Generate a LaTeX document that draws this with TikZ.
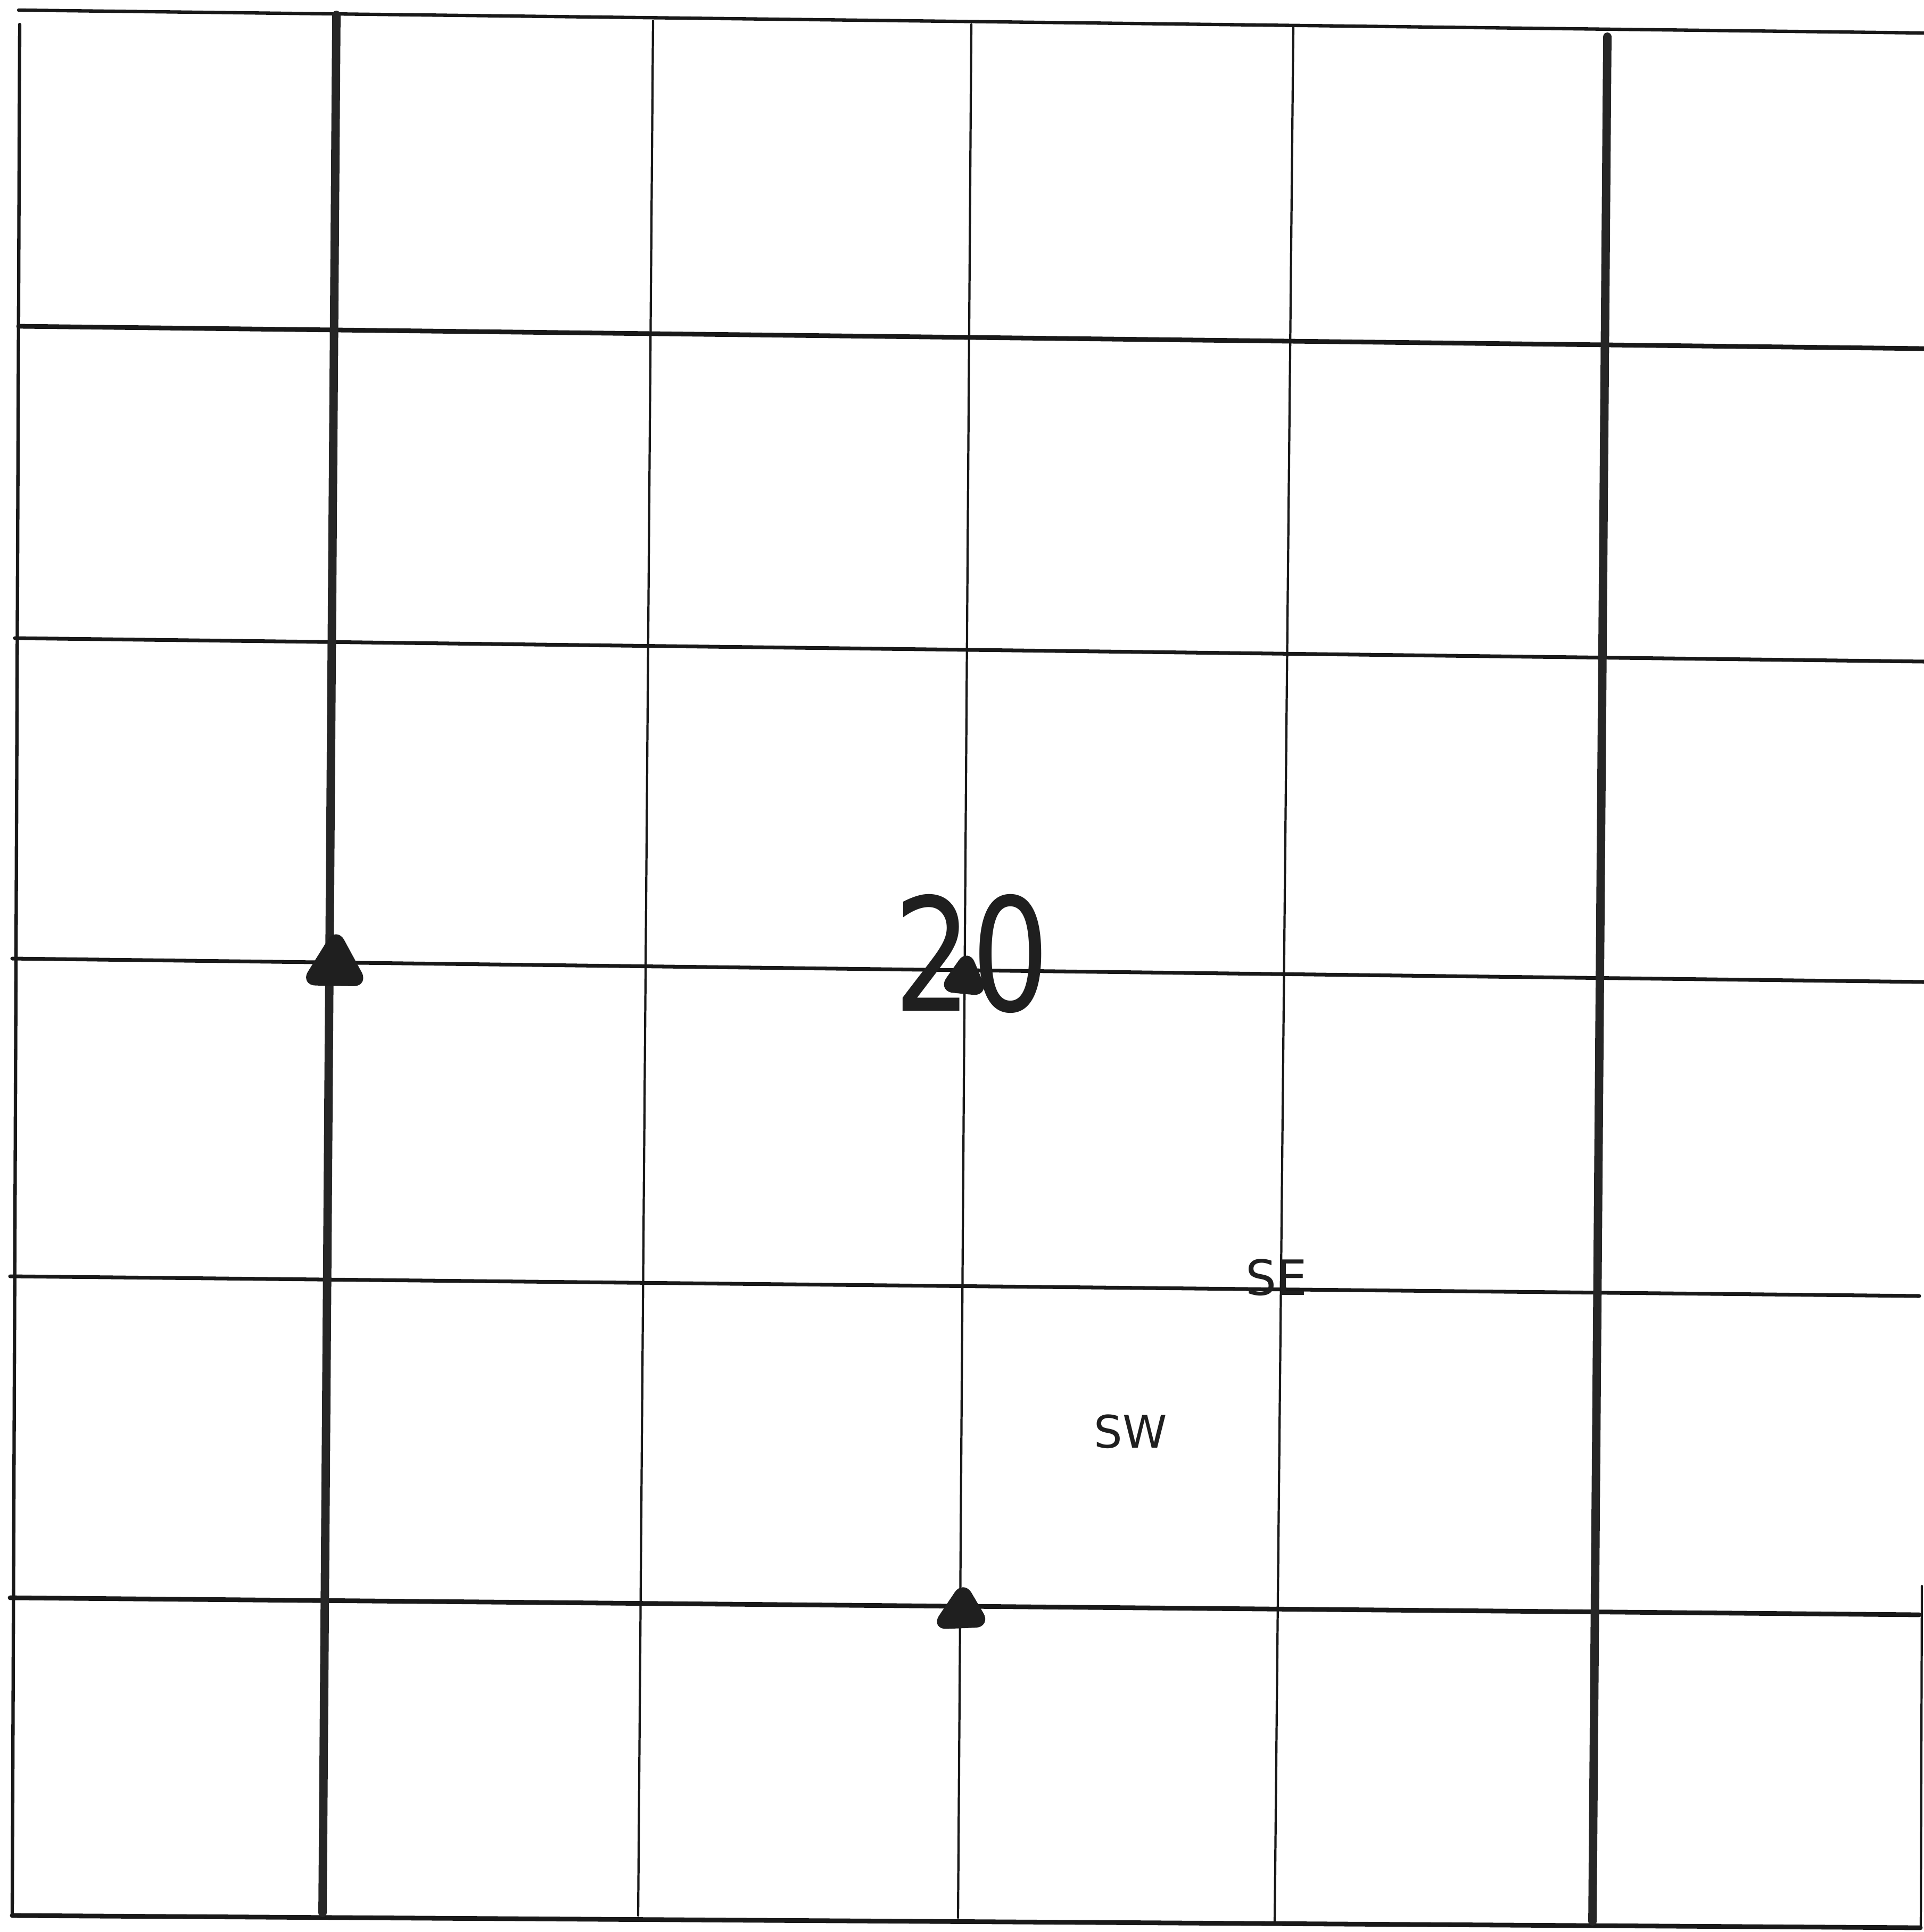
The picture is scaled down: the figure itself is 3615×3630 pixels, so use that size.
\documentclass[tikz,border=0pt]{standalone}
\usepackage{fontspec}
\setmainfont{DejaVu Sans}
\begin{document}
\begin{tikzpicture}[x=0.01cm,y=-0.01cm, line cap=round, line join=round,
  border/.style={line width=1.8pt, draw=black!90},
  thickv/.style={line width=4.5pt, draw=black!85},
  thinv/.style={line width=1.2pt, draw=black!90},
  hline/.style={line width=2pt, draw=black!90},
  hbold/.style={line width=2.5pt, draw=black!90},
  marker/.style={fill=black!88, draw=black!88, line width=3pt, rounded corners=6pt},
  lbl/.style={inner sep=0pt, text=black!88}]
\useasboundingbox (0,0) rectangle (3615,3630);
\fill[white] (0,0) rectangle (3615,3630);
% outer frame
\draw[border] (35,19) -- (3615,62);
\draw[border] (37,46) -- (23,3599);
\draw[hbold] (23,3599) -- (3608,3622);
\draw[thinv] (3611,2980) -- (3609,3622);
% horizontal lines
\draw[hbold] (35,613) -- (3615,655);
\draw[hline] (28,1199) -- (3615,1243);
\draw[hline] (23,1801) -- (3615,1845);
\draw[hline] (19,2398) -- (3606,2435);
\draw[hbold] (19,3002) -- (3606,3034);
% vertical lines
\draw[thickv] (632,28) -- (606,3594);
\draw[thinv] (1227,39) -- (1199,3599);
\draw[thinv] (1825,46) -- (1800,3603);
\draw[thinv] (2430,51) -- (2395,3610);
\draw[thickv] (3020,69) -- (2992,3610);
% triangle markers
\filldraw[marker] (632,1750) -- (685,1848) -- (572,1846) -- cycle;
\filldraw[marker] (1818,1790) -- (1850,1866) -- (1770,1858) -- cycle;
\filldraw[marker] (1810,2977) -- (1854,3052) -- (1757,3056) -- cycle;
% labels
\node[lbl, font=\fontsize{84}{84}\selectfont, xscale=0.78] (num) at (1826,1792) {20};
\node[lbl, font=\fontsize{26}{26}\selectfont] (se) at (2398,2400) {SE};
\node[lbl, font=\fontsize{24}{24}\selectfont] (sw) at (2124,2690) {SW};
\end{tikzpicture}
\end{document}
